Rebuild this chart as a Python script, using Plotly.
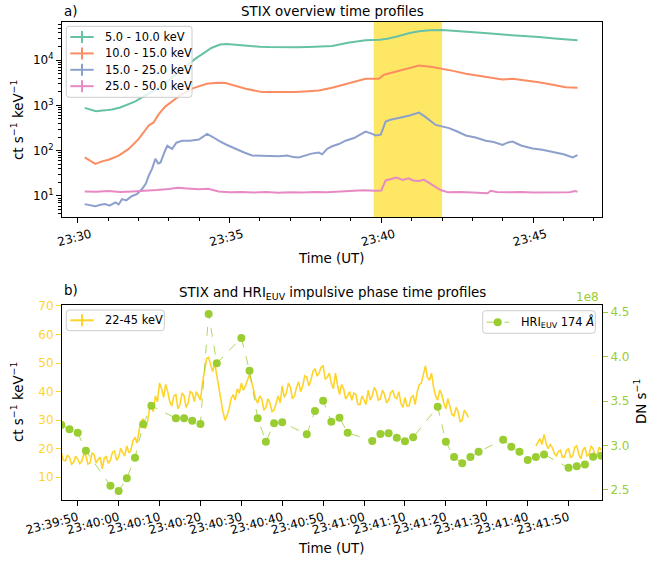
import plotly.graph_objects as go
from datetime import datetime, timedelta

# ---------------- data: panel a (minutes after 23:30 UT) ----------------
g_t = [0.23, 0.45, 0.6, 0.9, 1.13, 1.4, 1.68, 1.9, 2.16, 2.56, 2.93, 3.3, 3.59, 3.9, 4.14, 4.4, 4.69, 4.9,
       5.2, 5.64, 6.0, 6.3, 6.8, 7.17, 7.6, 8.05, 8.38, 8.9, 9.48, 9.95, 10.2, 10.58, 10.9, 11.24, 11.6,
       12.0, 12.5, 13.0, 13.5, 14.1, 14.6, 15.19, 15.8, 16.46]
g_v = [880, 790, 745, 775, 810, 900, 1080, 1220, 1550, 2200, 3300, 5200, 7750, 11000, 14000, 18500, 22000, 22600,
       21800, 20400, 19700, 19400, 19100, 19100, 19500, 20100, 20400, 24000, 27200, 28100, 29500, 34000, 39000,
       43100, 45500, 46000, 44000, 41700, 39000, 36200, 34500, 32300, 29500, 27200]

o_t = [0.23, 0.4, 0.58, 0.8, 1.02, 1.35, 1.68, 2.01, 2.2, 2.34, 2.5, 2.67, 2.89, 3.1, 3.37, 3.66, 3.81, 4.25,
       4.6, 4.87, 5.2, 5.53, 6.08, 6.6, 7.17, 7.6, 7.94, 8.38, 9.0, 9.48, 9.92, 10.09, 10.4, 10.8, 11.24, 11.68,
       12.0, 12.4, 12.78, 13.4, 13.99, 14.32, 14.7, 15.19, 15.6, 16.07, 16.46]
o_v = [71, 60, 51, 58, 63, 78, 109, 182, 260, 359, 420, 640, 950, 1200, 1650, 2150, 2400, 3000,
       3150, 3100, 2700, 2320, 1960, 1940, 1960, 2050, 2140, 2440, 3100, 3860, 3860, 4730, 5400, 6420, 7600, 7000,
       6420, 5700, 5000, 4300, 3740, 3860, 3600, 3240, 2900, 2520, 2440]

b_t = [0.23, 0.4, 0.58, 0.75, 0.91, 1.05, 1.24, 1.35, 1.46, 1.6, 1.79, 1.95, 2.12, 2.25, 2.34, 2.45, 2.56, 2.65,
       2.73, 2.85, 2.95, 3.11, 3.25, 3.44, 3.7, 3.99, 4.1, 4.26, 4.45, 4.64, 4.9, 5.2, 5.5, 5.75, 6.1, 6.4, 6.63,
       6.9, 7.1, 7.28, 7.5, 7.7, 7.94, 8.05, 8.21, 8.38, 8.6, 8.82, 9.1, 9.48, 9.7, 9.81, 9.98, 10.14, 10.3,
       10.58, 10.9, 11.24, 11.46, 11.79, 12.0, 12.23, 12.5, 12.78, 13.1, 13.44, 13.7, 13.99, 14.15, 14.32, 14.6,
       14.98, 15.3, 15.64, 16.0, 16.3, 16.46]
b_v = [6.6, 6.2, 5.9, 6.4, 6.6, 6.1, 7.2, 6.5, 8.5, 8.0, 10, 11, 14.2, 19, 28, 40, 66, 52,
       55, 90, 128, 109, 150, 166, 165, 176, 200, 234, 200, 166, 135, 109, 90, 78, 76, 74, 75,
       78, 72, 71, 80, 86, 91, 83, 109, 125, 140, 166, 190, 263, 235, 216, 225, 437, 480,
       520, 590, 690, 550, 370, 345, 315, 265, 216, 195, 166, 155, 134, 150, 159, 130,
       112, 105, 95, 83, 71, 80]

p_t = [0.23, 0.6, 1.0, 1.4, 1.8, 2.2, 2.6, 3.0, 3.3, 3.6, 4.0, 4.3, 4.64, 5.0, 5.4, 5.8, 6.2, 6.6, 7.0, 7.4,
       7.8, 8.2, 8.6, 9.0, 9.4, 9.8, 10.0, 10.14, 10.3, 10.5, 10.7, 10.9, 11.05, 11.25, 11.4, 11.55, 11.75,
       11.95, 12.2, 12.6, 13.0, 13.5, 13.6, 13.8, 14.2, 14.6, 15.0, 15.4, 15.8, 16.2, 16.38, 16.46]
p_v = [12.6, 12.4, 12.8, 12.3, 12.6, 12.9, 13.5, 14.2, 15.2, 14.6, 14.0, 14.4, 12.6, 12.0, 12.3, 11.9, 12.2,
       11.8, 12.1, 11.9, 12.2, 12.0, 12.3, 12.8, 13.3, 13.0, 13.2, 22, 23.5, 25.6, 22.5, 24.5, 22, 21.5, 23,
       20, 17, 13.5, 12.0, 12.2, 11.9, 11.5, 13.0, 12.2, 12.0, 12.3, 11.9, 12.1, 12.0, 12.1, 12.8, 12.4]

bands = ["5.0 - 10.0 keV", "10.0 - 15.0 keV", "15.0 - 25.0 keV", "25.0 - 50.0 keV"]
band_colors = ["#66c2a5", "#fc8d62", "#8da0cb", "#e78ac3"]
span_start, span_end = "23:39:45", "23:42:00"

# ---------------- data: panel b (seconds after 23:39:50 UT) ----------------
stix_step = 0.5
stix1_start = -4.0
stix1_v = [18.5, 16.0, 15.8, 17.8, 16.9, 14.6, 15.2, 17.4, 16.4, 14.8, 15.6, 18.2, 17.5, 14.6, 15.0, 18.6,
           17.9, 15.0, 16.2, 17.0, 13.0, 16.8, 17.2, 14.9, 16.0, 18.8, 19.2, 16.0, 17.0, 20.2, 18.6, 17.4,
           21.0, 18.6, 19.4, 22.8, 24.0, 22.0, 26.5, 29.5, 30.5, 27.0, 29.0, 33.5, 35.0, 33.0, 38.5, 36.5,
           43.0, 41.0, 38.0, 42.5, 40.0, 36.5, 35.0, 38.5, 39.0, 34.0, 35.5, 39.5, 38.5, 34.5, 36.0, 40.0,
           39.5, 36.5, 40.0, 38.5, 37.0, 43.0, 48.0, 51.5, 52.0, 49.0, 47.0, 50.0, 45.5, 41.0, 37.0, 33.0,
           30.0, 31.5, 34.0, 37.5, 39.0, 37.0, 41.0, 39.5, 43.0, 40.5, 42.0, 44.0, 46.0, 43.5, 40.0, 37.5,
           36.0, 38.5, 37.5, 33.5, 34.5, 37.5, 36.0, 33.0, 33.5, 36.5, 38.5, 36.0, 42.0, 38.0, 39.5, 43.0,
           41.5, 37.5, 38.5, 41.5, 43.5, 40.0, 42.0, 45.5, 45.0, 42.0, 44.0, 47.0, 48.0, 45.5, 46.5, 48.5,
           49.0, 44.5, 45.0, 46.5, 43.0, 41.0, 46.5, 42.5, 39.0, 42.5, 41.0, 37.5, 38.5, 40.0, 37.0, 39.5,
           39.0, 35.5, 35.5, 38.5, 37.0, 35.5, 40.5, 37.0, 38.5, 41.5, 40.0, 37.0, 37.5, 40.5, 39.0, 36.0,
           37.0, 39.5, 40.5, 38.0, 37.5, 40.0, 36.0, 34.5, 38.0, 35.0, 35.0, 38.0, 38.5, 35.5, 40.0, 42.5,
           43.0, 46.0, 49.0, 45.0, 44.0, 46.5, 41.5, 38.5, 37.0, 40.5, 39.0, 36.0, 34.0, 37.5, 35.0, 32.0,
           31.5, 34.5, 33.0, 29.5, 30.0, 33.5, 32.5, 31.0]
stix2_start = 112.0
stix2_v = [21.0, 22.5, 23.5, 21.5, 25.0, 22.0, 20.0, 21.5, 20.5, 18.5, 17.5, 19.0, 19.5, 17.0, 17.0, 19.5,
           20.0, 17.0, 17.5, 20.5, 21.0, 18.0, 16.5, 19.5, 20.5, 17.5, 18.0, 21.0, 20.0, 17.5, 18.0, 20.5, 19.5]
stix_label = "22-45 keV"

hri_s = [-4, -2, 0, 2, 8, 10, 12, 14, 16, 18, 24, 26, 28, 30, 32, 34, 40, 42, 44, 46, 48, 50, 56, 58, 60, 62,
         64, 66, 72, 74, 76, 78, 80, 82, 88, 90, 92, 94, 96, 98, 104, 106, 108, 110, 112, 114, 120, 122, 124,
         126, 128]
hri_v = [3.231, 3.182, 3.144, 2.941, 2.547, 2.488, 2.631, 2.863, 3.239, 3.448, 3.306, 3.306, 3.279, 3.242,
         4.481, 3.926, 4.211, 3.842, 3.306, 3.043, 3.25, 3.261, 3.126, 3.389, 3.505, 3.268,
         3.313, 3.144, 3.051, 3.129, 3.137, 3.088, 3.047, 3.092, 3.437, 3.043, 2.87, 2.80, 2.87, 2.93,
         3.065, 2.986, 2.93, 2.837, 2.87, 2.90, 2.75, 2.766, 2.788, 2.874, 2.885]  # x 1e8 DN/s
hri_label = "HRI<sub>EUV</sub> 174 <i>Å</i>"

GOLD = "#FFD42A"
YG = "#9ACD32"
FONT = "DejaVu Sans"

base_a = datetime(2022, 3, 2, 23, 30, 0)
base_b = datetime(2022, 3, 2, 23, 39, 50)
day = "2022-03-02 "

def ta(ts):
    return [base_a + timedelta(minutes=t) for t in ts]

fig = go.Figure()

series = [(g_t, g_v), (o_t, o_v), (b_t, b_v), (p_t, p_v)]
for (ts, vs), name, col in zip(series, bands, band_colors):
    fig.add_trace(go.Scatter(x=ta(ts), y=vs, mode="lines", line=dict(color=col, width=2), name=name,
                             showlegend=False, xaxis="x", yaxis="y"))

# panel b
sx = [base_b + timedelta(seconds=stix1_start + i * stix_step) for i in range(len(stix1_v))]
sx += [None]
sx += [base_b + timedelta(seconds=stix2_start + i * stix_step) for i in range(len(stix2_v))]
sy = list(stix1_v) + [None] + list(stix2_v)
fig.add_trace(go.Scatter(x=sx, y=sy, mode="lines", line=dict(color=GOLD, width=1.6), name=stix_label,
                         connectgaps=False, showlegend=False, xaxis="x2", yaxis="y2"))
hx = [base_b + timedelta(seconds=s) for s in hri_s]
fig.add_trace(go.Scatter(x=hx, y=hri_v, mode="lines+markers", name=hri_label, showlegend=False,
                         line=dict(color=YG, width=0.8, dash="dash"),
                         marker=dict(color=YG, size=8),
                         xaxis="x2", yaxis="y3"))

fig.add_shape(type="rect", xref="x", yref="y domain", x0=day + span_start, x1=day + span_end,
              y0=0, y1=1, fillcolor="#FFD700", opacity=0.6, line=dict(width=0), layer="below")

axis_common = dict(showline=True, linecolor="black", linewidth=1, ticks="outside", ticklen=5,
                   tickcolor="black", showgrid=False, zeroline=False, automargin=False,
                   tickfont=dict(family=FONT, size=12, color="black"))

log_minor = [m * 10 ** e for e in range(0, 5) for m in range(2, 10)]

fig.update_layout(
    width=649, height=561, template="none", showlegend=False,
    margin=dict(l=62, r=47, t=22, b=61),
    paper_bgcolor="white", plot_bgcolor="white",
    font=dict(family=FONT, size=12, color="black"),
    xaxis=dict(axis_common, domain=[0, 1], anchor="y", type="date", mirror=True,
               range=[day + "23:29:29", day + "23:47:16"], tick0=day + "23:30:00", dtick=300000,
               tickformat="%H:%M", tickangle=-15, ticklabelshift=13,
               minor=dict(ticks="outside", ticklen=3, dtick=60000, tick0=day + "23:30:00", tickcolor="black")),
    yaxis=dict(axis_common, domain=[0.592, 1], anchor="x", type="log", mirror=True,
               range=[0.535, 4.84], tickmode="array", tickvals=[10, 100, 1000, 10000],
               ticktext=["10<sup>1</sup>", "10<sup>2</sup>", "10<sup>3</sup>", "10<sup>4</sup>"],
               minor=dict(ticks="outside", ticklen=3, tickmode="array", tickvals=log_minor, tickcolor="black")),
    xaxis2=dict(axis_common, domain=[0, 1], anchor="y2", type="date", mirror=True,
                range=[day + "23:39:46.16", day + "23:41:58.17"], tick0=day + "23:39:50", dtick=10000,
                tickformat="%H:%M:%S", tickangle=-15),
    yaxis2=dict(axis_common, domain=[0, 0.408], anchor="x2", range=[2.05, 70.35],
                tickvals=[10, 20, 30, 40, 50, 60, 70], tickcolor=GOLD,
                tickfont=dict(family=FONT, size=12, color=GOLD)),
    yaxis3=dict(axis_common, overlaying="y2", side="right", anchor="x2", range=[2.387, 4.582],
                tickvals=[2.5, 3.0, 3.5, 4.0, 4.5], ticktext=["2.5", "3.0", "3.5", "4.0", "4.5"],
                tickcolor=YG, tickfont=dict(family=FONT, size=12, color=YG)),
)

def py(p):
    return 1 - (p - 22) / 478.0

def px(p):
    return (p - 62) / 540.0

# ---------- hand-drawn legends (matplotlib style boxes) ----------
def legend_box(x0, y0, x1, y1, r=3):
    path = (f"M {px(x0 + r)},{py(y0)} L {px(x1 - r)},{py(y0)} Q {px(x1)},{py(y0)} {px(x1)},{py(y0 + r)} "
            f"L {px(x1)},{py(y1 - r)} Q {px(x1)},{py(y1)} {px(x1 - r)},{py(y1)} "
            f"L {px(x0 + r)},{py(y1)} Q {px(x0)},{py(y1)} {px(x0)},{py(y1 - r)} "
            f"L {px(x0)},{py(y0 + r)} Q {px(x0)},{py(y0)} {px(x0 + r)},{py(y0)} Z")
    fig.add_shape(type="path", path=path, xref="paper", yref="paper",
                  fillcolor="rgba(255,255,255,0.8)", line=dict(color="#cccccc", width=1), layer="above")

def legend_text(x, y, text):
    fig.add_annotation(text=text, x=px(x), y=py(y), xref="paper", yref="paper", xanchor="left",
                       yanchor="middle", showarrow=False, font=dict(family=FONT, size=11.4, color="black"))

def errbar_handle(xc, y, col):
    fig.add_shape(type="line", xref="paper", yref="paper", x0=px(xc - 11.7), x1=px(xc + 11.7),
                  y0=py(y), y1=py(y), line=dict(color=col, width=2), layer="above")
    fig.add_shape(type="line", xref="paper", yref="paper", x0=px(xc), x1=px(xc),
                  y0=py(y - 6), y1=py(y + 6), line=dict(color=col, width=2), layer="above")

legend_box(66.3, 26.3, 192, 97.3)
for i, (name, col) in enumerate(zip(bands, band_colors)):
    yy = 37 + 16.4 * i
    errbar_handle(82, yy, col)
    legend_text(102.5, yy, name)

legend_box(66.3, 310, 164.3, 330.7)
errbar_handle(82, 320.3, GOLD)
legend_text(102.5, 320.3, stix_label)

legend_box(482.7, 310.7, 595.3, 333.3)
fig.add_shape(type="line", xref="paper", yref="paper", x0=px(486.5), x1=px(509), y0=py(322.2), y1=py(322.2),
              line=dict(color=YG, width=0.8, dash="dash"), layer="above")
fig.add_shape(type="circle", xref="paper", yref="paper", x0=px(497.7 - 4), x1=px(497.7 + 4),
              y0=py(322.2 - 4), y1=py(322.2 + 4), fillcolor=YG, line=dict(color=YG, width=0), layer="above")
legend_text(518.5, 322.2, hri_label)

ann = [
    dict(text="a)", x=px(62), y=py(11), xanchor="left", size=13.4),
    dict(text="STIX overview time profiles", x=px(332), y=py(11), xanchor="center", size=13.4),
    dict(text="Time (UT)", x=px(331), y=py(258), xanchor="center", size=13.4),
    dict(text="b)", x=px(62), y=py(290), xanchor="left", size=13.4),
    dict(text="STIX and HRI<sub>EUV</sub> impulsive phase time profiles", x=px(332), y=py(293),
         xanchor="center", size=13.4),
    dict(text="Time (UT)", x=px(331), y=py(548), xanchor="center", size=13.4),
]
for a in ann:
    fig.add_annotation(text=a["text"], x=a["x"], y=a["y"], xref="paper", yref="paper",
                       xanchor=a["xanchor"], yanchor="middle", showarrow=False,
                       font=dict(family=FONT, size=a["size"], color="black"))

fig.add_annotation(text="ct s<sup>−1</sup> keV<sup>−1</sup>", x=px(17), y=py(120), xref="paper", yref="paper",
                   textangle=-90, showarrow=False, xanchor="center", yanchor="middle",
                   font=dict(family=FONT, size=13.4, color="black"))
fig.add_annotation(text="ct s<sup>−1</sup> keV<sup>−1</sup>", x=px(17), y=py(402), xref="paper", yref="paper",
                   textangle=-90, showarrow=False, xanchor="center", yanchor="middle",
                   font=dict(family=FONT, size=13.4, color="black"))
fig.add_annotation(text="DN s<sup>−1</sup>", x=px(640), y=py(402), xref="paper", yref="paper",
                   textangle=-90, showarrow=False, xanchor="center", yanchor="middle",
                   font=dict(family=FONT, size=13.4, color="black"))
fig.add_annotation(text="1e8", x=px(601), y=py(297), xref="paper", yref="paper",
                   showarrow=False, xanchor="right", yanchor="middle",
                   font=dict(family=FONT, size=12, color=YG))

fig.write_html("out.html")
